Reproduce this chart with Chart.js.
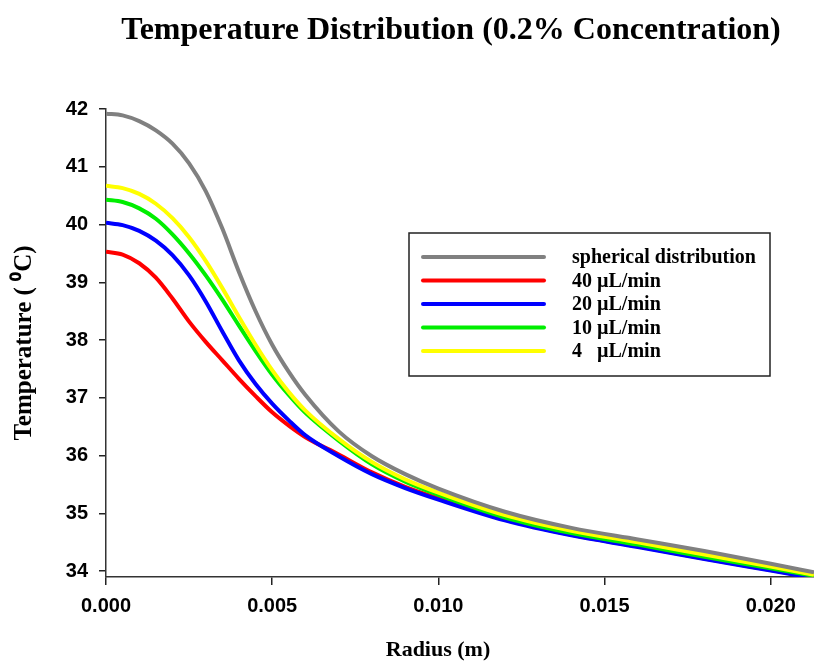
<!DOCTYPE html>
<html>
<head>
<meta charset="utf-8">
<script src="https://cdn.jsdelivr.net/npm/chart.js@4.4.0/dist/chart.umd.min.js"></script>
<style>
  body { margin: 0; background: #fff; }
  #wrap { width: 814px; height: 663px; }
</style>
</head>
<body>
<div id="wrap"><canvas id="temp-chart"></canvas></div>
<script>
// radius (m)
const radius = [0, 0.0005, 0.001, 0.0015, 0.002, 0.0025, 0.003, 0.0035, 0.004, 0.0045, 0.005, 0.0055,
  0.006, 0.007, 0.008, 0.009, 0.010, 0.012, 0.014, 0.016, 0.018, 0.020, 0.0213];

const spherical = [41.92, 41.89, 41.79, 41.63, 41.40, 41.06, 40.58, 39.93, 39.18, 38.50, 37.92, 37.45,
  37.05, 36.42, 35.99, 35.68, 35.43, 35.03, 34.75, 34.55, 34.35, 34.13, 33.98];
const flow40 = [39.53, 39.48, 39.33, 39.08, 38.72, 38.32, 37.97, 37.65, 37.33, 37.03, 36.75, 36.52,
  36.32, 36.02, 35.71, 35.46, 35.26, 34.90, 34.63, 34.43, 34.22, 34.02, 33.89];
const flow20 = [40.03, 39.99, 39.89, 39.72, 39.47, 39.12, 38.67, 38.15, 37.65, 37.24, 36.90, 36.61,
  36.35, 35.99, 35.68, 35.44, 35.24, 34.88, 34.62, 34.42, 34.21, 34.01, 33.88];
const flow10 = [40.43, 40.39, 40.28, 40.10, 39.83, 39.50, 39.12, 38.70, 38.25, 37.81, 37.40, 37.05,
  36.74, 36.26, 35.85, 35.55, 35.32, 34.93, 34.66, 34.46, 34.25, 34.05, 33.92];
const flow4 = [40.67, 40.63, 40.53, 40.36, 40.11, 39.78, 39.37, 38.90, 38.40, 37.92, 37.48, 37.10,
  36.78, 36.29, 35.89, 35.59, 35.36, 34.97, 34.70, 34.50, 34.29, 34.08, 33.94];

const yTicks = [34, 35, 36, 37, 38, 39, 40, 41, 42];
const xTicks = [0, 0.005, 0.010, 0.015, 0.020];

const series = [
  { label: 'spherical distribution', values: spherical, color: '#808080', order: 0 },
  { label: '40 \u00b5L/min', values: flow40, color: '#ff0000', order: 4 },
  { label: '20 \u00b5L/min', values: flow20, color: '#0000ff', order: 3 },
  { label: '10 \u00b5L/min', values: flow10, color: '#00ee00', order: 2 },
  { label: '4   \u00b5L/min', values: flow4, color: '#ffff00', order: 1 }
];

const tickFont = { family: 'Liberation Sans, Arial, sans-serif', size: 20, weight: 'bold' };
const serifBold = 'Liberation Serif, Times New Roman, serif';

// title, x-axis title and boxed legend drawn on the canvas
const decor = {
  id: 'decor',
  afterDraw(chart) {
    const ctx = chart.ctx;
    ctx.save();
    ctx.fillStyle = '#000';
    ctx.font = 'bold 32px ' + serifBold;
    ctx.textAlign = 'center';
    ctx.textBaseline = 'middle';
    ctx.fillText('Temperature Distribution (0.2% Concentration)', 451, 31);

    ctx.font = 'bold 22px ' + serifBold;
    ctx.fillText('Radius (m)', 438, 650);

    // legend box
    const bx = 409, by = 233, bw = 361, bh = 143;
    ctx.strokeStyle = '#222';
    ctx.lineWidth = 1.5;
    ctx.fillStyle = '#fff';
    ctx.fillRect(bx, by, bw, bh);
    ctx.strokeRect(bx, by, bw, bh);
    ctx.font = 'bold 20px ' + serifBold;
    ctx.textAlign = 'left';
    series.forEach((s, i) => {
      const y = by + 24 + i * 23.5;
      ctx.strokeStyle = s.color;
      ctx.lineWidth = 4;
      ctx.lineCap = 'round';
      ctx.beginPath();
      ctx.moveTo(bx + 14, y);
      ctx.lineTo(bx + 135, y);
      ctx.stroke();
      ctx.fillStyle = '#000';
      ctx.fillText(s.label, bx + 163, y + 1);
    });
    ctx.restore();
  }
};

new Chart(document.getElementById('temp-chart'), {
  type: 'line',
  data: {
    datasets: series.map(s => ({
      label: s.label,
      data: radius.map((r, i) => ({ x: r, y: s.values[i] })),
      borderColor: s.color,
      backgroundColor: s.color,
      borderWidth: 4,
      pointRadius: 0,
      cubicInterpolationMode: 'monotone',
      fill: false,
      order: s.order
    }))
  },
  options: {
    responsive: true,
    maintainAspectRatio: false,
    animation: false,
    layout: { padding: { top: 109, right: 0, bottom: 0, left: 0 } },
    plugins: {
      legend: { display: false },
      tooltip: { enabled: false }
    },
    scales: {
      x: {
        type: 'linear',
        min: 0,
        max: 0.0213,
        afterBuildTicks: axis => { axis.ticks = xTicks.map(v => ({ value: v })); },
        afterFit: axis => { axis.height = 86; },
        ticks: {
          color: '#000',
          font: tickFont,
          padding: 9,
          maxRotation: 0,
          callback: v => v.toFixed(3)
        },
        grid: { drawOnChartArea: false, drawTicks: true, tickLength: 8, color: '#222', lineWidth: 1.5 },
        border: { display: true, color: '#333', width: 1.5 }
      },
      y: {
        type: 'linear',
        min: 33.9,
        max: 42,
        afterBuildTicks: axis => { axis.ticks = yTicks.map(v => ({ value: v })); },
        afterFit: axis => { axis.width = 106; },
        ticks: {
          color: '#000',
          font: tickFont,
          padding: 11
        },
        grid: { drawOnChartArea: false, drawTicks: true, tickLength: 7, color: '#222', lineWidth: 1.5 },
        border: { display: true, color: '#333', width: 1.5 },
        title: {
          display: true,
          text: 'Temperature ( \u2070C)',
          color: '#000',
          font: { family: serifBold, size: 25, weight: 'bold' },
          padding: { top: 10, bottom: 0 }
        }
      }
    }
  },
  plugins: [decor]
});
</script>
</body>
</html>
